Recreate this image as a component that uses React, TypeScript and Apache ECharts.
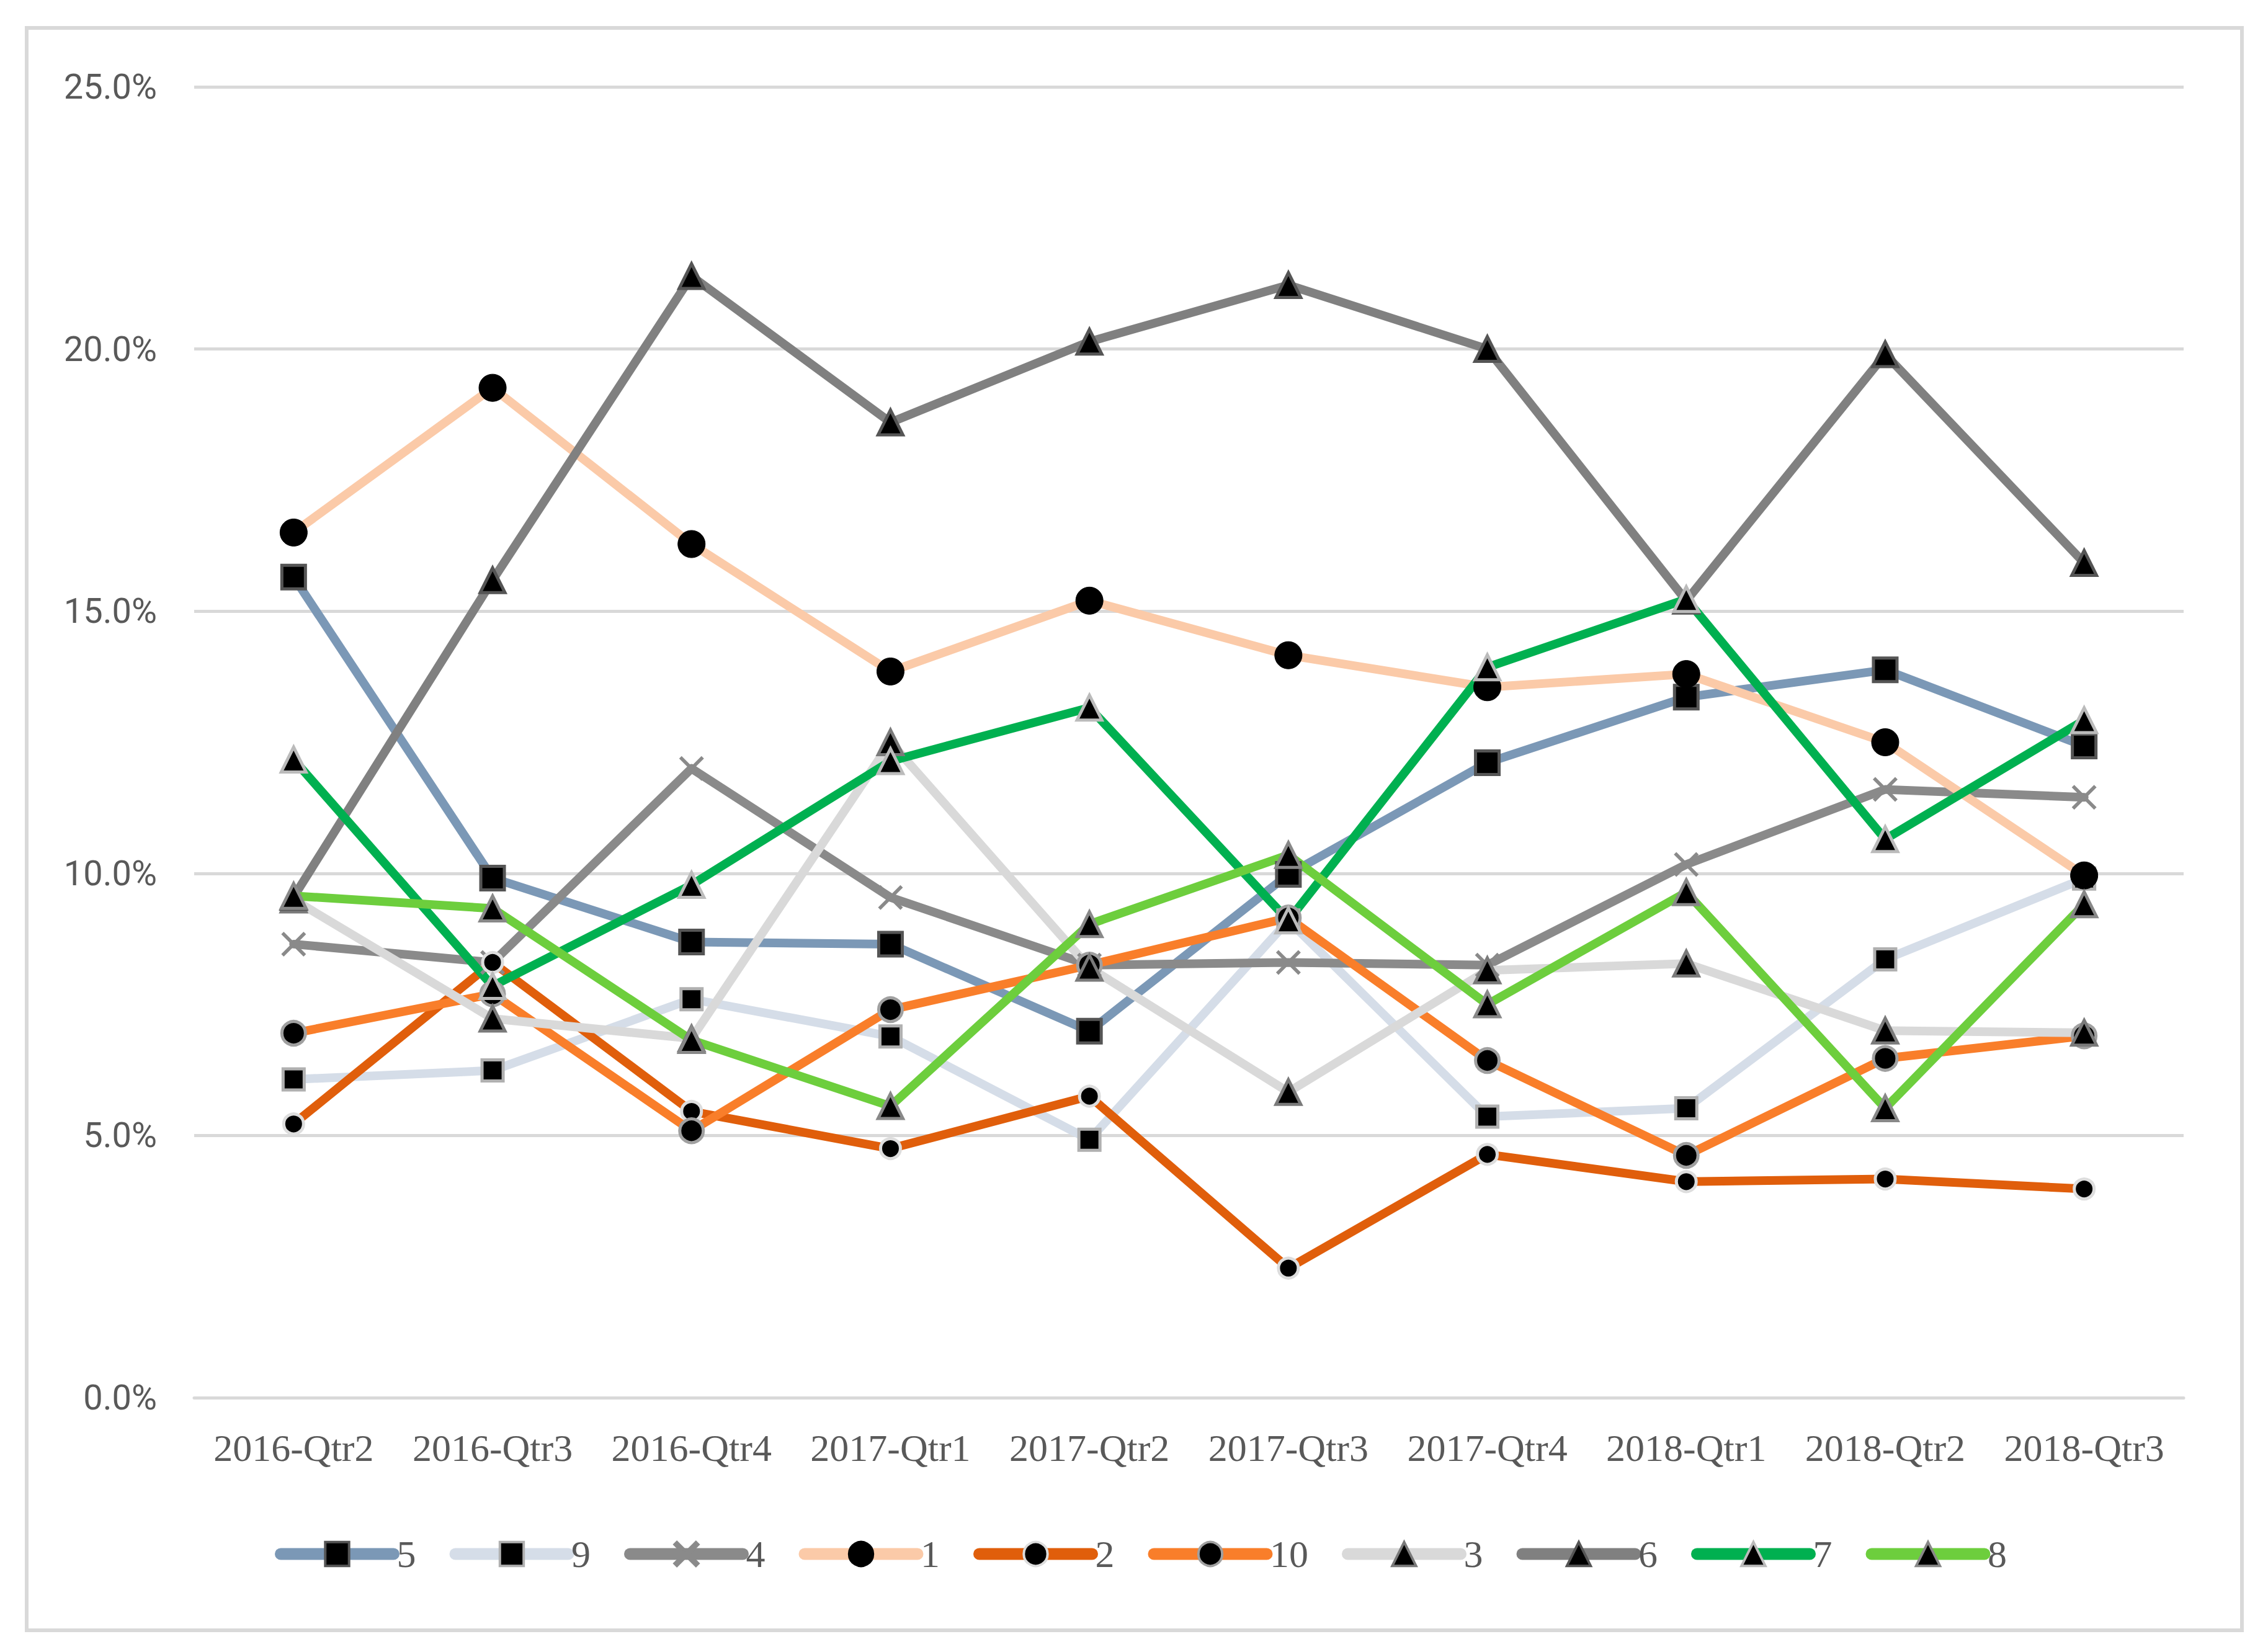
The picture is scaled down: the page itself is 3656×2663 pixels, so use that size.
import React, { useEffect, useRef } from 'react';
import * as echarts from 'echarts';

const categories = ['2016-Qtr2', '2016-Qtr3', '2016-Qtr4', '2017-Qtr1', '2017-Qtr2', '2017-Qtr3', '2017-Qtr4', '2018-Qtr1', '2018-Qtr2', '2018-Qtr3'];

const yTicks = [0, 5, 10, 15, 20, 25];

const s5 = [15.65, 9.91, 8.69, 8.65, 6.99, 9.98, 12.11, 13.36, 13.88, 12.43];
const s9 = [6.07, 6.24, 7.6, 6.89, 4.92, 9.1, 5.36, 5.52, 8.36, 9.9];
const s4 = [8.65, 8.3, 12.0, 9.54, 8.25, 8.3, 8.25, 10.17, 11.6, 11.45];
const s1 = [16.5, 19.26, 16.28, 13.85, 15.2, 14.16, 13.55, 13.8, 12.5, 9.96];
const s2 = [5.22, 8.3, 5.46, 4.75, 5.75, 2.47, 4.64, 4.12, 4.17, 3.98];
const s10 = [6.95, 7.7, 5.09, 7.4, 8.25, 9.15, 6.43, 4.62, 6.47, 6.9];
const s3 = [9.5, 7.23, 6.85, 12.5, 8.2, 5.83, 8.15, 8.28, 7.0, 6.96];
const s6 = [9.55, 15.59, 21.39, 18.6, 20.14, 21.22, 20.0, 15.2, 19.9, 15.92];
const s7 = [12.17, 7.85, 9.78, 12.14, 13.16, 9.1, 13.93, 15.23, 10.65, 12.92];
const s8 = [9.57, 9.33, 6.82, 5.56, 9.03, 10.35, 7.5, 9.64, 5.52, 9.41];

const seriesNames = ['5', '9', '4', '1', '2', '10', '3', '6', '7', '8'];
const seriesData = [s5, s9, s4, s1, s2, s10, s3, s6, s7, s8];

const X_SYMBOL = 'path://M0,1 L1,0 L5,4 L9,0 L10,1 L6,5 L10,9 L9,10 L5,6 L1,10 L0,9 L4,5 Z';

const styles = [
  { line: '#7b98b6', symbol: 'rect', size: 38, fill: '#000000', border: '#555555', bw: 5 },
  { line: '#d5dde8', symbol: 'rect', size: 34, fill: '#000000', border: '#b0b0b0', bw: 5 },
  { line: '#8a8a8a', symbol: X_SYMBOL, size: 40, fill: '#8a8a8a', border: '#8a8a8a', bw: 0 },
  { line: '#fbcaa8', symbol: 'circle', size: 44, fill: '#000000', border: '#000000', bw: 1 },
  { line: '#e05e0b', symbol: 'circle', size: 32, fill: '#000000', border: '#dddddd', bw: 5 },
  { line: '#f97e2a', symbol: 'circle', size: 38, fill: '#000000', border: '#a0a0a0', bw: 5 },
  { line: '#d9d9d9', symbol: 'triangle', size: 40, fill: '#000000', border: '#7a7a7a', bw: 5 },
  { line: '#808080', symbol: 'triangle', size: 40, fill: '#000000', border: '#555555', bw: 5 },
  { line: '#00b050', symbol: 'triangle', size: 40, fill: '#000000', border: '#bbbbbb', bw: 5 },
  { line: '#6dce3d', symbol: 'triangle', size: 40, fill: '#000000', border: '#888888', bw: 5 },
];

export default function App() {
  const ref = useRef<HTMLDivElement>(null);
  useEffect(() => {
    const chart = echarts.init(ref.current!, null, { renderer: 'svg' });
    const series = seriesNames.map((name, i) => {
      const st = styles[i];
      return {
        name,
        type: 'line',
        data: seriesData[i],
        symbol: st.symbol,
        symbolSize: st.size,
        showSymbol: true,
        showAllSymbol: true,
        itemStyle: { color: st.fill, borderColor: st.border, borderWidth: st.bw },
        lineStyle: { color: st.line, width: 14, cap: 'round', join: 'round' },
        emphasis: { disabled: true },
      };
    });
    const option = {
      animation: false,
      backgroundColor: '#ffffff',
      grid: { left: 313, right: 136, top: 140, bottom: 410, containLabel: false },
      xAxis: {
        type: 'category',
        data: categories,
        boundaryGap: true,
        axisLine: { show: true, lineStyle: { color: '#d9d9d9', width: 5 } },
        axisTick: { show: false },
        axisLabel: {
          color: '#595959',
          fontFamily: 'Liberation Serif',
          fontSize: 62,
          margin: 50,
          interval: 0,
        },
        splitLine: { show: false },
      },
      yAxis: {
        type: 'value',
        min: yTicks[0],
        max: yTicks[yTicks.length - 1],
        interval: 5,
        axisLine: { show: false },
        axisTick: { show: false },
        axisLabel: {
          color: '#595959',
          fontFamily: 'Roboto',
          fontSize: 56,
          margin: 60,
          formatter: (v: number) => v.toFixed(1) + '%',
        },
        splitLine: { show: true, lineStyle: { color: '#d9d9d9', width: 5 } },
      },
      legend: {
        data: seriesNames,
        left: 443,
        top: 2474,
        padding: 0,
        orient: 'horizontal',
        itemWidth: 182,
        itemHeight: 48,
        itemGap: 54,
        textStyle: { color: '#595959', fontFamily: 'Liberation Serif', fontSize: 62 },
        itemStyle: { borderWidth: 4 },
        lineStyle: { width: 19, cap: 'round' },
        selectedMode: false,
      },
      graphic: [
        {
          type: 'rect',
          shape: { x: 43, y: 45, width: 3571, height: 2583 },
          style: { fill: 'none', stroke: '#d9d9d9', lineWidth: 6 },
          silent: true,
          z: -1,
        },
      ],
      series,
    };
    chart.setOption(option as any);
    return () => chart.dispose();
  }, []);
  return (
    <div
      ref={ref}
      style={{ position: 'absolute', left: 0, top: 0, width: 3656, height: 2663, background: '#ffffff' }}
    />
  );
}
